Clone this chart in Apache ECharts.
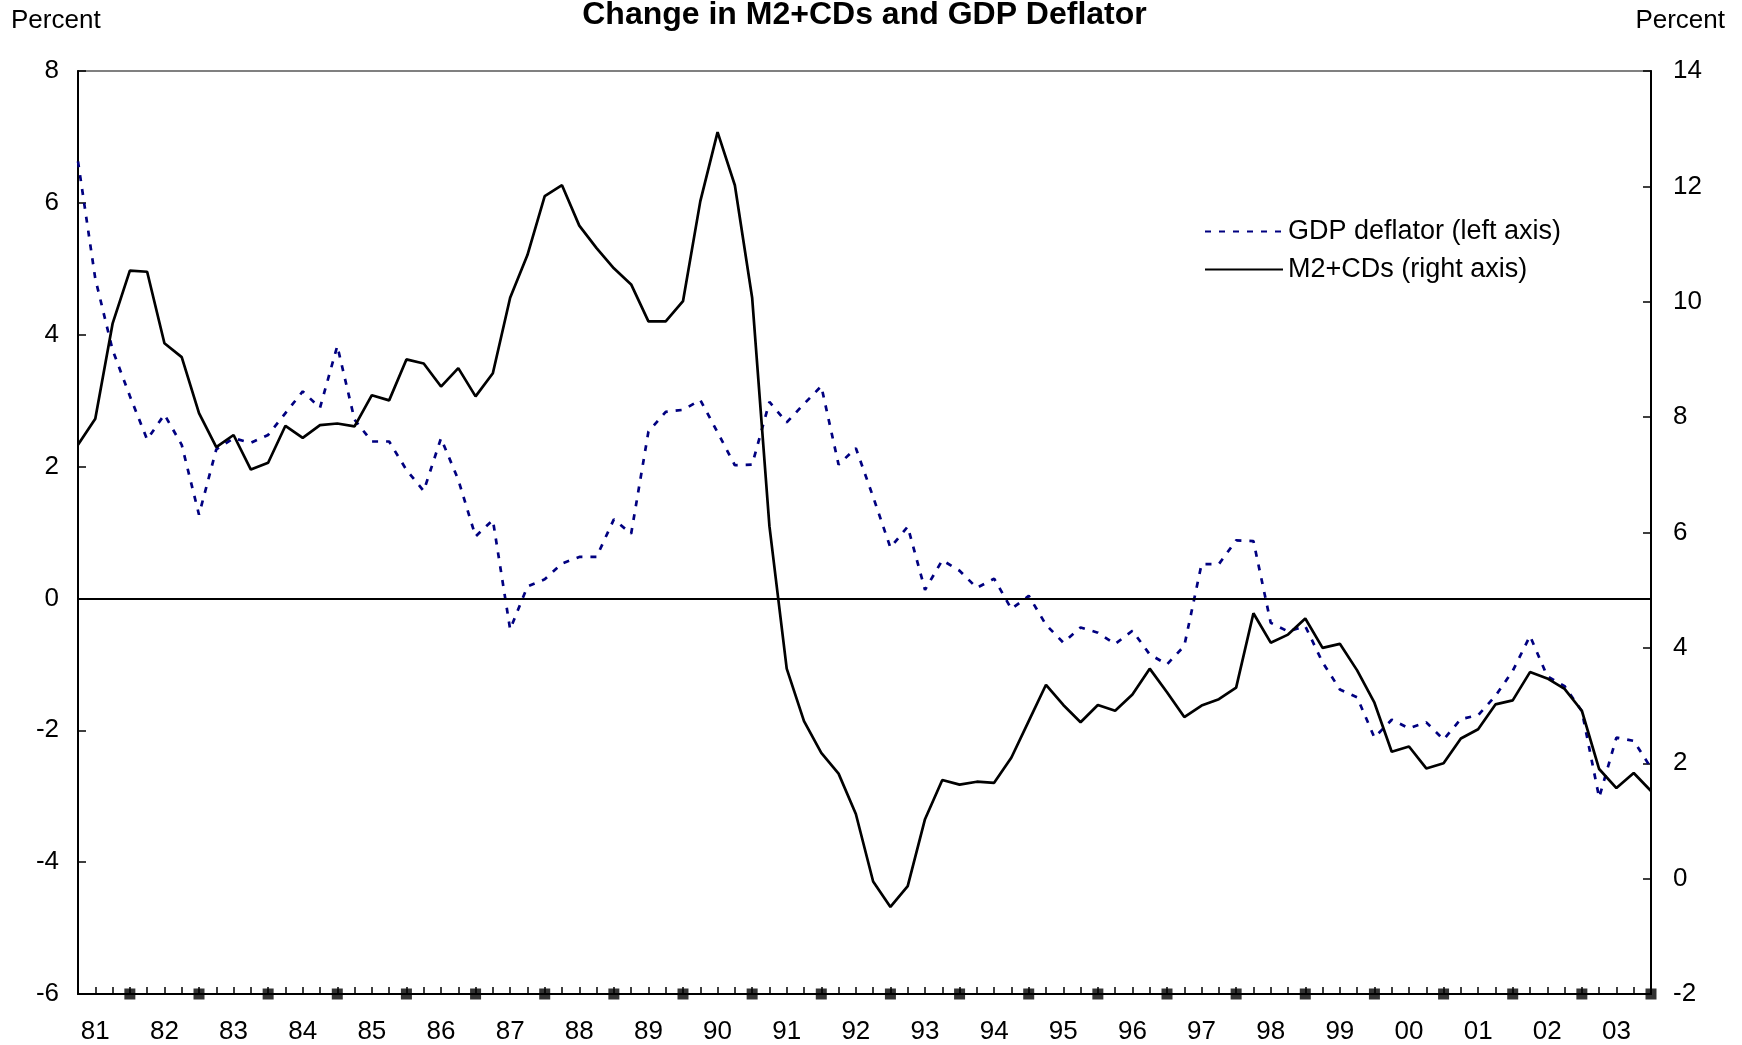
<!DOCTYPE html>
<html>
<head>
<meta charset="utf-8">
<script src="https://cdn.jsdelivr.net/npm/echarts@6/dist/echarts.min.js"></script>
<style>
html,body{margin:0;padding:0;background:#fff;}
#chart{width:1742px;height:1045px;}
</style>
</head>
<body>
<div id="chart"></div>
<script>
// ---- data ----
const years = ['81','82','83','84','85','86','87','88','89','90','91','92','93','94','95','96','97','98','99','00','01','02','03'];
const quarterNames = ['Q1','Q2','Q3','Q4'];
const categories = [];
years.forEach(y => quarterNames.forEach(q => categories.push(y + q)));

// GDP deflator, % change (left axis)
const gdpDeflator = [
  6.63, 4.85, 3.77, 3.07,
  2.41, 2.79, 2.33, 1.27,
  2.26, 2.43, 2.36, 2.48,
  2.81, 3.14, 2.89, 3.83,
  2.71, 2.38, 2.38, 1.95,
  1.63, 2.43, 1.80, 0.94,
  1.19, -0.47, 0.18, 0.29,
  0.53, 0.63, 0.63, 1.20,
  0.98, 2.53, 2.83, 2.86,
  3.01, 2.52, 2.02, 2.03,
  2.98, 2.67, 2.95, 3.22,
  2.03, 2.28, 1.54, 0.77,
  1.09, 0.13, 0.58, 0.42,
  0.16, 0.30, -0.16, 0.04,
  -0.40, -0.67, -0.44, -0.52,
  -0.69, -0.49, -0.85, -1.00,
  -0.72, 0.52, 0.52, 0.88,
  0.87, -0.37, -0.50, -0.42,
  -0.97, -1.38, -1.50, -2.11,
  -1.84, -1.97, -1.88, -2.14,
  -1.83, -1.77, -1.48, -1.10,
  -0.57, -1.18, -1.33, -1.71,
  -3.02, -2.11, -2.16, -2.57
];

// M2+CDs, % change (right axis)
const m2CDs = [
  7.52, 7.97, 9.62, 10.54,
  10.52, 9.28, 9.04, 8.07,
  7.48, 7.69, 7.09, 7.21,
  7.85, 7.64, 7.86, 7.89,
  7.84, 8.38, 8.29, 9.00,
  8.93, 8.53, 8.85, 8.36,
  8.76, 10.07, 10.81, 11.83,
  12.02, 11.32, 10.93, 10.58,
  10.30, 9.66, 9.66, 10.01,
  11.74, 12.94, 12.02, 10.07,
  6.11, 3.64, 2.73, 2.18,
  1.82, 1.12, -0.05, -0.49,
  -0.13, 1.03, 1.71, 1.63,
  1.68, 1.66, 2.10, 2.73,
  3.36, 3.01, 2.71, 3.01,
  2.91, 3.19, 3.64, 3.23,
  2.80, 3.00, 3.11, 3.31,
  4.60, 4.09, 4.23, 4.51,
  4.00, 4.07, 3.61, 3.05,
  2.20, 2.29, 1.91, 2.00,
  2.43, 2.59, 3.02, 3.09,
  3.58, 3.47, 3.29, 2.91,
  1.90, 1.57, 1.83, 1.52
];

const leftAxis = {min: -6, max: 8, interval: 2};
const rightAxis = {min: -2, max: 14, interval: 2};
const seriesNames = ['GDP deflator (left axis)', 'M2+CDs (right axis)'];
const titleText = 'Change in M2+CDs and GDP Deflator';
const axisTitle = 'Percent';

// year-end markers on the category axis (Q4 of each year)
const yearEndMarkers = categories.filter((c, i) => i % 4 === 3);

// ---- chart ----
const FONT = "'Liberation Sans', Arial, sans-serif";
const chart = echarts.init(document.getElementById('chart'), null, {renderer: 'canvas'});

const option = {
  animation: false,
  backgroundColor: '#ffffff',
  textStyle: {fontFamily: FONT, color: '#000'},
  grid: {
    left: 78, right: 91, top: 71, bottom: 50,
    show: true, borderColor: '#808080', borderWidth: 2, backgroundColor: 'transparent'
  },
  graphic: [
    {type: 'text', x: 864.5, y: 15, z: 100,
     style: {text: titleText, fontFamily: FONT, fontSize: 32, fontWeight: 'bold', fill: '#000',
             align: 'center', verticalAlign: 'middle', textAlign: 'center', textVerticalAlign: 'middle'}},
    {type: 'text', x: 11, y: 21, z: 100,
     style: {text: axisTitle, fontFamily: FONT, fontSize: 26, fill: '#000',
             align: 'left', verticalAlign: 'middle', textAlign: 'left', textVerticalAlign: 'middle'}},
    {type: 'text', x: 1725, y: 21, z: 100,
     style: {text: axisTitle, fontFamily: FONT, fontSize: 26, fill: '#000',
             align: 'right', verticalAlign: 'middle', textAlign: 'right', textVerticalAlign: 'middle'}}
  ],
  legend: {
    orient: 'vertical',
    left: 1199, top: 213,
    itemWidth: 78, itemHeight: 14, itemGap: 11,
    data: seriesNames,
    itemStyle: {opacity: 0},
    textStyle: {fontSize: 27, color: '#000', fontFamily: FONT},
    selectedMode: false
  },
  xAxis: {
    type: 'category',
    data: categories,
    boundaryGap: false,
    axisLine: {show: true, onZero: false, lineStyle: {color: '#000', width: 2}},
    axisTick: {show: true, inside: true, length: 7, interval: 0, lineStyle: {color: '#000', width: 1.5}},
    axisLabel: {
      interval: (index) => index % 4 === 1,
      formatter: (v) => v.slice(0, 2),
      color: '#000', fontSize: 26, margin: 25, fontFamily: FONT
    },
    splitLine: {show: false}
  },
  yAxis: [
    {
      type: 'value', position: 'left',
      min: leftAxis.min, max: leftAxis.max, interval: leftAxis.interval,
      axisLine: {show: true, onZero: false, lineStyle: {color: '#000', width: 2}},
      axisTick: {show: true, inside: true, length: 8, lineStyle: {color: '#000', width: 1.5}},
      axisLabel: {color: '#000', fontSize: 26, margin: 19, fontFamily: FONT},
      splitLine: {show: false}
    },
    {
      type: 'value', position: 'right',
      min: rightAxis.min, max: rightAxis.max, interval: rightAxis.interval,
      axisLine: {show: true, onZero: false, lineStyle: {color: '#000', width: 2}},
      axisTick: {show: true, inside: true, length: 8, lineStyle: {color: '#000', width: 1.5}},
      axisLabel: {color: '#000', fontSize: 26, margin: 22, fontFamily: FONT},
      splitLine: {show: false}
    }
  ],
  series: [
    {
      name: seriesNames[0],
      type: 'line',
      yAxisIndex: 0,
      data: gdpDeflator,
      symbol: 'none',
      lineStyle: {color: '#000080', width: 2.7, type: [6, 8]},
      itemStyle: {color: '#000080'},
      z: 3,
      markLine: {
        silent: true,
        symbol: ['none', 'none'],
        label: {show: false},
        lineStyle: {color: '#000', width: 2.2, type: 'solid'},
        data: [{yAxis: 0}]
      }
    },
    {
      name: seriesNames[1],
      type: 'line',
      yAxisIndex: 1,
      data: m2CDs,
      symbol: 'none',
      lineStyle: {color: '#000', width: 2.7, type: 'solid'},
      itemStyle: {color: '#000'},
      z: 4
    },
    {
      name: 'year-end',
      type: 'scatter',
      yAxisIndex: 0,
      data: yearEndMarkers.map(c => [c, leftAxis.min]),
      symbol: 'rect',
      symbolSize: 11,
      itemStyle: {color: '#000'},
      clip: false,
      silent: true,
      z: 10
    }
  ]
};
chart.setOption(option);
</script>
</body>
</html>
